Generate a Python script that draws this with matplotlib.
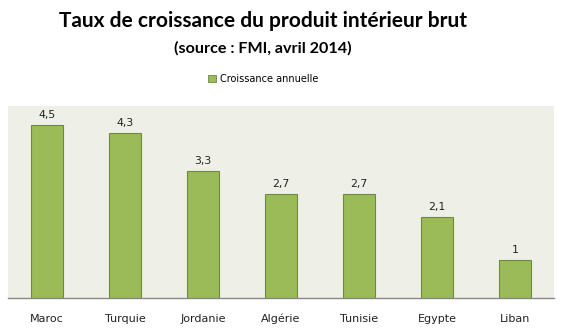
import matplotlib.pyplot as plt
from matplotlib.patches import Patch

pays = ["Maroc", "Turquie", "Jordanie", "Algérie", "Tunisie", "Egypte", "Liban"]
croissance = [4.5, 4.3, 3.3, 2.7, 2.7, 2.1, 1.0]
etiquettes = ["4,5", "4,3", "3,3", "2,7", "2,7", "2,1", "1"]

vert = "#9BBB59"
bord = "#71893F"
fond = "#EEF0E8"

fig = plt.figure(figsize=(5.61, 3.31), dpi=100)
ax = fig.add_axes([0.0143, 0.0997, 0.9733, 0.5803])
ax.set_facecolor(fond)

x = range(len(pays))
bars = ax.bar(x, croissance, width=0.4, color=vert, edgecolor=bord, linewidth=0.8)
for b, lab in zip(bars, etiquettes):
    ax.text(b.get_x() + b.get_width() / 2, b.get_height() + 0.13, lab,
            ha="center", va="bottom", fontsize=7.8, color="#222222",
            family="DejaVu Sans")

ax.set_xlim(-0.5, len(pays) - 0.5)
ax.set_ylim(0, 5)
ax.set_xticks(list(x))
ax.set_xticklabels(pays, fontsize=8, color="#222222", family="DejaVu Sans")
# baseline alignment so the accent in "Algérie" doesn't push it down
for t in ax.get_xticklabels():
    t.set_va("baseline")
ax.tick_params(axis="x", length=0, pad=17)
ax.set_yticks([])
for s in ["top", "left", "right"]:
    ax.spines[s].set_visible(False)
ax.spines["bottom"].set_color("#888888")
ax.spines["bottom"].set_linewidth(1)

xc = 263 / 561
fig.text(xc, 1 - 21 / 331, "Taux de croissance du produit intérieur brut",
         ha="center", va="center", fontsize=15, fontweight="bold", family="Lato")
fig.text(xc, 1 - 48 / 331, "(source : FMI, avril 2014)",
         ha="center", va="center", fontsize=11.6, fontweight="bold", family="Lato")

fig.legend(handles=[Patch(facecolor=vert, edgecolor=bord, linewidth=0.6)],
           labels=["Croissance annuelle"], loc="center",
           bbox_to_anchor=(xc, 1 - 79 / 331), frameon=False,
           prop={"family": "DejaVu Sans", "size": 7},
           handlelength=0.8, handleheight=0.8, handletextpad=0.4)

fig.savefig("out.png", dpi=100)
